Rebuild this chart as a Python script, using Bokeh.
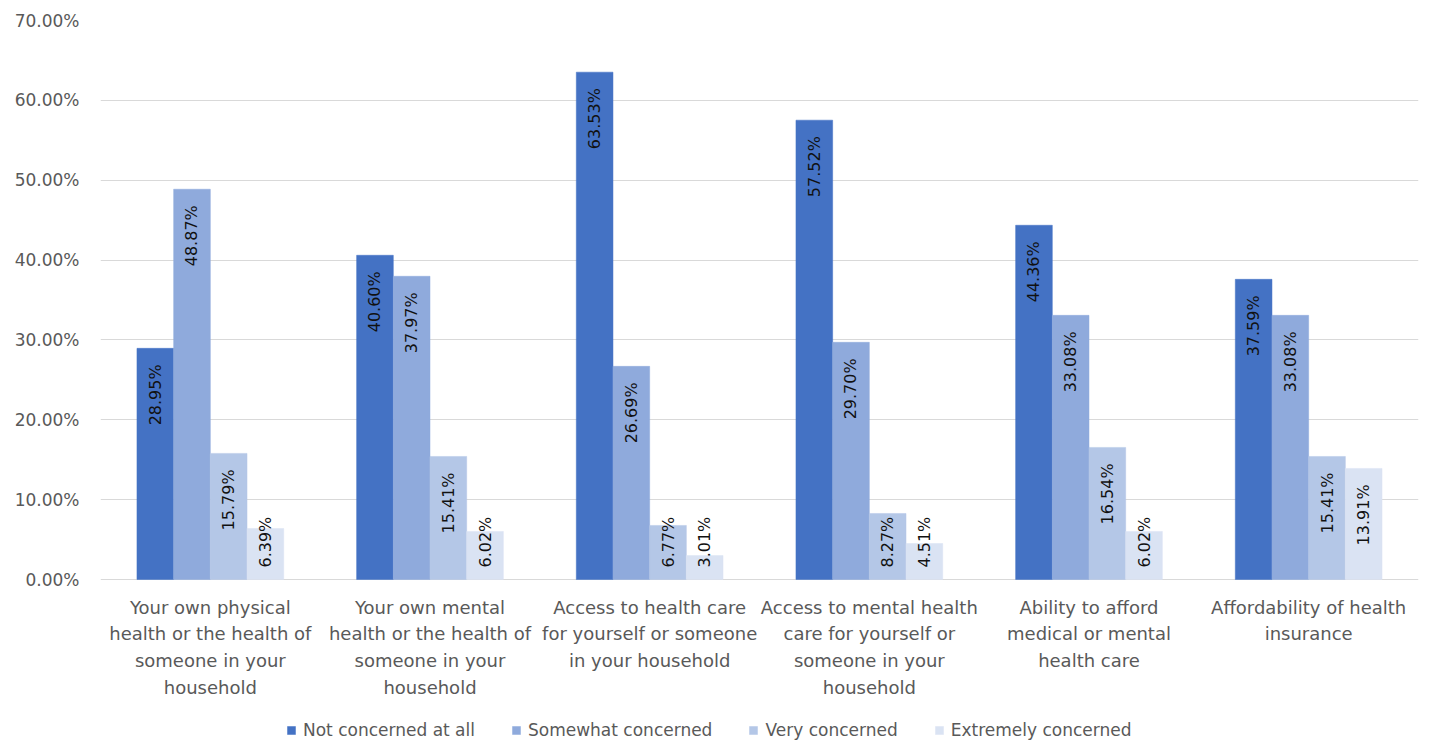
import math
from bokeh.plotting import figure
from bokeh.models import (FactorRange, ColumnDataSource, PrintfTickFormatter, Legend,
                          LegendItem, FixedTicker)
from bokeh.transform import dodge
from bokeh.core.properties import value
from bokeh.embed import file_html
from bokeh.resources import INLINE

categories = [
    "Your own physical\nhealth or the health of\nsomeone in your\nhousehold",
    "Your own mental\nhealth or the health of\nsomeone in your\nhousehold",
    "Access to health care\nfor yourself or someone\nin your household",
    "Access to mental health\ncare for yourself or\nsomeone in your\nhousehold",
    "Ability to afford\nmedical or mental\nhealth care",
    "Affordability of health\ninsurance",
]
series_names = ["Not concerned at all", "Somewhat concerned", "Very concerned", "Extremely concerned"]
not_concerned = [28.95, 40.60, 63.53, 57.52, 44.36, 37.59]
somewhat = [48.87, 37.97, 26.69, 29.70, 33.08, 33.08]
very = [15.79, 15.41, 6.77, 8.27, 16.54, 15.41]
extremely = [6.39, 6.02, 3.01, 4.51, 6.02, 13.91]
y_ticks = [0, 10, 20, 30, 40, 50, 60, 70]

series = [not_concerned, somewhat, very, extremely]
colors = ["#4472C4", "#8FAADC", "#B4C7E7", "#DAE3F3"]
offsets = [-0.2505, -0.0835, 0.0835, 0.2505]
bar_w = 0.167
FONT = "DejaVu Sans"
GRAY = "#595959"

# frame extends below zero so that category labels and legend live inside it
PX_PER_UNIT = 559 / 70.0
BELOW = 167 / PX_PER_UNIT

p = figure(x_range=FactorRange(*categories, range_padding=0), y_range=(-BELOW, 70),
           frame_width=1318, frame_height=726, output_backend="svg", toolbar_location=None,
           min_border_left=100, min_border_right=3, min_border_top=20, min_border_bottom=0)
p.outline_line_color = None
p.background_fill_color = "white"
p.border_fill_color = "white"

items = []
for name, vals, col, off in zip(series_names, series, colors, offsets):
    src = ColumnDataSource(dict(cat=categories, val=vals))
    r = p.vbar(x=dodge("cat", off, range=p.x_range), top="val", width=bar_w, source=src,
               fill_color=col, line_color=col, line_width=0.5)
    items.append(LegendItem(label=name, renderers=[r]))
    big = [i for i, v in enumerate(vals) if v >= 10]
    small = [i for i, v in enumerate(vals) if v < 10]
    if big:
        s1 = ColumnDataSource(dict(cat=[categories[i] for i in big], val=[vals[i] for i in big],
                                   lab=["%.2f%%" % vals[i] for i in big]))
        p.text(x=dodge("cat", off, range=p.x_range), y="val", text="lab", source=s1,
               angle=math.pi / 2, text_align="right", text_baseline="middle",
               y_offset=16, text_font=value(FONT), text_font_size="16px", text_color="#111111")
    if small:
        s2 = ColumnDataSource(dict(cat=[categories[i] for i in small], val=[0] * len(small),
                                   lab=["%.2f%%" % vals[i] for i in small]))
        p.text(x=dodge("cat", off, range=p.x_range), y="val", text="lab", source=s2,
               angle=math.pi / 2, text_align="left", text_baseline="middle",
               y_offset=-12, text_font=value(FONT), text_font_size="16px", text_color="#111111")

# category labels under the baseline
cat_src = ColumnDataSource(dict(cat=categories, y=[0] * len(categories)))
p.text(x="cat", y="y", text="cat", source=cat_src, text_align="center", text_baseline="top",
       y_offset=17, text_font=value(FONT), text_font_size="18px", text_color=GRAY,
       text_line_height=1.28)

p.xaxis.visible = False

p.yaxis.ticker = FixedTicker(ticks=y_ticks)
p.yaxis.formatter = PrintfTickFormatter(format="%.2f%%")
p.yaxis.axis_line_color = None
p.yaxis.major_tick_line_color = None
p.yaxis.minor_tick_line_color = None
p.yaxis.major_label_text_font = FONT
p.yaxis.major_label_text_font_size = "17px"
p.yaxis.major_label_text_color = GRAY
p.yaxis.major_label_standoff = 15

p.xgrid.grid_line_color = None
p.ygrid.grid_line_color = "#D9D9D9"
p.ygrid.ticker = FixedTicker(ticks=y_ticks)

legend = Legend(items=items, orientation="horizontal", location=(186, 6),
                label_text_font=FONT, label_text_font_size="17px", label_text_color=GRAY,
                glyph_width=10, glyph_height=10, label_standoff=7, spacing=36,
                border_line_color=None, background_fill_alpha=0, margin=0, padding=2)
p.add_layout(legend)

open("out.html", "w").write(file_html(p, INLINE))
